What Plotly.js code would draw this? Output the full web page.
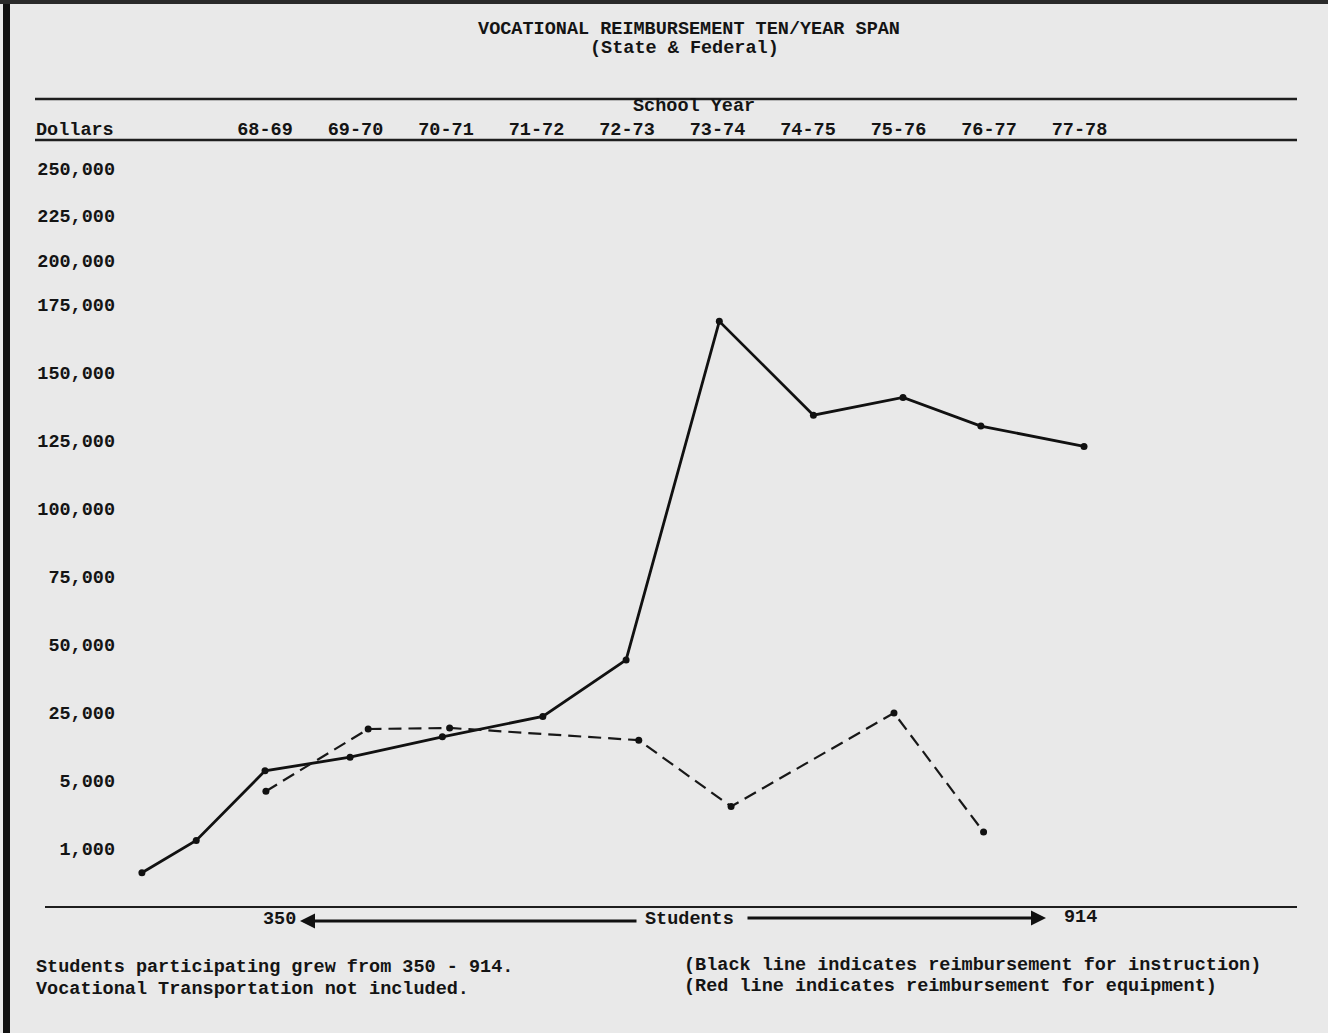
<!DOCTYPE html>
<html>
<head>
<meta charset="utf-8">
<script src="https://cdn.plot.ly/plotly-3.0.1.min.js"></script>
<style>
  html, body { margin: 0; padding: 0; background: #e9e9e9; }
  #chart { width: 1328px; height: 1033px; }
</style>
</head>
<body>
<div id="chart"></div>
<script>
// ---- Data ----
const schoolYears = ['68-69', '69-70', '70-71', '71-72', '72-73', '73-74', '74-75', '75-76', '76-77', '77-78'];
const schoolYearIndex = [0, 1, 2, 3, 4, 5, 6, 7, 8, 9];

// Y axis of the original is non-uniform: these are its printed tick values
const yTickDollars = [1000, 5000, 25000, 50000, 75000, 100000, 125000, 150000, 175000, 200000, 225000, 250000];
const yTickLabels = ['1,000', '5,000', '25,000', '50,000', '75,000', '100,000', '125,000', '150,000', '175,000', '200,000', '225,000', '250,000'];
// slot each printed tick occupies on the drawn scale (rows of the typed grid)
const yTickSlots = [0, 1, 2, 3, 4, 5, 6, 7, 8, 8.66, 9.32, 10];

// Black line: reimbursement for instruction (x = position along the school-year axis)
const instructionX = [-1.36, -0.76, 0, 0.94, 1.96, 3.07, 3.99, 5.02, 6.06, 7.05, 7.91, 9.05];
const instructionDollars = [650, 1500, 8000, 12000, 18000, 24000, 44500, 169000, 134500, 141000, 130500, 123000];

// Red (dashed) line: reimbursement for equipment
const equipmentX = [0.01, 1.14, 2.04, 4.13, 5.15, 6.95, 7.94];
const equipmentDollars = [4400, 20300, 20600, 17000, 3500, 25000, 2000];

// ---- Scale: piecewise mapping from dollars to the chart's typed rows ----
const anchorDollars = [0].concat(yTickDollars);
const anchorSlots = [-1].concat(yTickSlots);
function toSlot(d) {
  for (let i = 1; i < anchorDollars.length; i++) {
    if (d <= anchorDollars[i]) {
      const t = (d - anchorDollars[i - 1]) / (anchorDollars[i] - anchorDollars[i - 1]);
      return anchorSlots[i - 1] + t * (anchorSlots[i] - anchorSlots[i - 1]);
    }
  }
  return anchorSlots[anchorSlots.length - 1];
}

// ---- Layout geometry (pixels) ----
const W = 1328, H = 1033;
const M = { l: 120, r: 31, t: 140, b: 126 };
const plotW = W - M.l - M.r, plotH = H - M.t - M.b;
const px = x => (x - M.l) / plotW;          // pixel x -> paper
const py = y => (H - M.b - y) / plotH;      // pixel y -> paper

const FONT = 'Liberation Mono, DejaVu Sans Mono, monospace';
const INK = '#141414';
const fnt = (size, weight) => ({ family: FONT, size: size, color: INK, weight: weight || 'bold' });

const traces = [
  {
    type: 'scatter', mode: 'lines+markers', name: 'Instruction',
    x: instructionX, y: instructionDollars.map(toSlot),
    customdata: instructionDollars,
    line: { color: '#111111', width: 2.8 },
    marker: { color: '#111111', size: 7 },
    hovertemplate: '%{customdata:,}<extra></extra>'
  },
  {
    type: 'scatter', mode: 'lines+markers', name: 'Equipment',
    x: equipmentX, y: equipmentDollars.map(toSlot),
    customdata: equipmentDollars,
    line: { color: '#181818', width: 2.2, dash: '13px,7px' },
    marker: { color: '#111111', size: 7 },
    hovertemplate: '%{customdata:,}<extra></extra>'
  }
];

const hline = (x0, x1, y, w) => ({
  type: 'line', xref: 'paper', yref: 'paper',
  x0: px(x0), x1: px(x1), y0: py(y), y1: py(y),
  line: { color: '#1e1e1e', width: w }
});

const layout = {
  width: W, height: H,
  margin: M,
  paper_bgcolor: '#e9e9e9',
  plot_bgcolor: 'rgba(0,0,0,0)',
  showlegend: false,
  title: {
    text: 'VOCATIONAL REIMBURSEMENT TEN/YEAR SPAN',
    xref: 'container', yref: 'container',
    x: 689 / W, xanchor: 'center',
    y: 1 - 28 / H, yanchor: 'middle',
    font: fnt(18.5)
  },
  xaxis: {
    range: [(M.l - 265) / 90.5, (W - M.r - 265) / 90.5],
    side: 'top',
    tickmode: 'array', tickvals: schoolYearIndex, ticktext: schoolYears,
    ticks: '', showgrid: false, zeroline: false, showline: false,
    tickfont: fnt(18.5), ticklabelstandoff: 0,
    fixedrange: true
  },
  yaxis: {
    range: [(849 - (H - M.b)) / 68, (849 - M.t) / 68],
    tickmode: 'array', tickvals: yTickSlots, ticktext: yTickLabels,
    ticks: '', showgrid: false, zeroline: false, showline: false,
    tickfont: fnt(18.5), ticklabelstandoff: 4,
    fixedrange: true
  },
  shapes: [
    hline(35, 1297, 99, 2.5),
    hline(35, 1297, 140, 2.5),
    hline(45, 1297, 907, 2),
    { type: 'rect', xref: 'paper', yref: 'paper', x0: px(3), x1: px(10), y0: py(0), y1: py(H),
      fillcolor: '#111111', line: { width: 0 } },
    { type: 'rect', xref: 'paper', yref: 'paper', x0: px(0), x1: px(W), y0: py(0), y1: py(4),
      fillcolor: '#2a2a2a', line: { width: 0 } }
  ],
  annotations: [
    { text: '(State & Federal)', xref: 'paper', yref: 'paper', x: px(684), y: py(48),
      xanchor: 'center', yanchor: 'middle', showarrow: false, font: fnt(18.5) },
    { text: 'School Year', xref: 'paper', yref: 'paper', x: px(694), y: py(107),
      xanchor: 'center', yanchor: 'middle', showarrow: false, font: fnt(18.5) },
    { text: 'Dollars', xref: 'paper', yref: 'paper', x: px(34), y: py(130),
      xanchor: 'left', yanchor: 'middle', showarrow: false, font: fnt(18.5) },
    { text: '350', xref: 'paper', yref: 'paper', x: px(279), y: py(919),
      xanchor: 'center', yanchor: 'middle', showarrow: false, font: fnt(18.5) },
    { text: 'Students', xref: 'paper', yref: 'paper', x: px(689), y: py(919),
      xanchor: 'center', yanchor: 'middle', showarrow: false, font: fnt(18.5) },
    { text: '914', xref: 'paper', yref: 'paper', x: px(1080), y: py(917),
      xanchor: 'center', yanchor: 'middle', showarrow: false, font: fnt(18.5) },
    { text: '', xref: 'paper', yref: 'paper', x: px(300), y: py(921),
      ax: 338, ay: 0, showarrow: true, arrowhead: 2, arrowsize: 1, arrowwidth: 3, arrowcolor: '#111' },
    { text: '', xref: 'paper', yref: 'paper', x: px(1046), y: py(918),
      ax: -300, ay: 0, showarrow: true, arrowhead: 2, arrowsize: 1, arrowwidth: 3, arrowcolor: '#111' },
    { text: 'Students participating grew from 350 - 914.', xref: 'paper', yref: 'paper',
      x: px(34), y: py(967), xanchor: 'left', yanchor: 'middle', showarrow: false, font: fnt(18.5) },
    { text: 'Vocational Transportation not included.', xref: 'paper', yref: 'paper',
      x: px(34), y: py(990), xanchor: 'left', yanchor: 'middle', showarrow: false, font: fnt(18.5) },
    { text: '(Black line indicates reimbursement for instruction)', xref: 'paper', yref: 'paper',
      x: px(682), y: py(965), xanchor: 'left', yanchor: 'middle', showarrow: false, font: fnt(18.5) },
    { text: '(Red line indicates reimbursement for equipment)', xref: 'paper', yref: 'paper',
      x: px(682), y: py(987), xanchor: 'left', yanchor: 'middle', showarrow: false, font: fnt(18.5) }
  ]
};

Plotly.newPlot('chart', traces, layout, { displayModeBar: false, staticPlot: true });
</script>
</body>
</html>
